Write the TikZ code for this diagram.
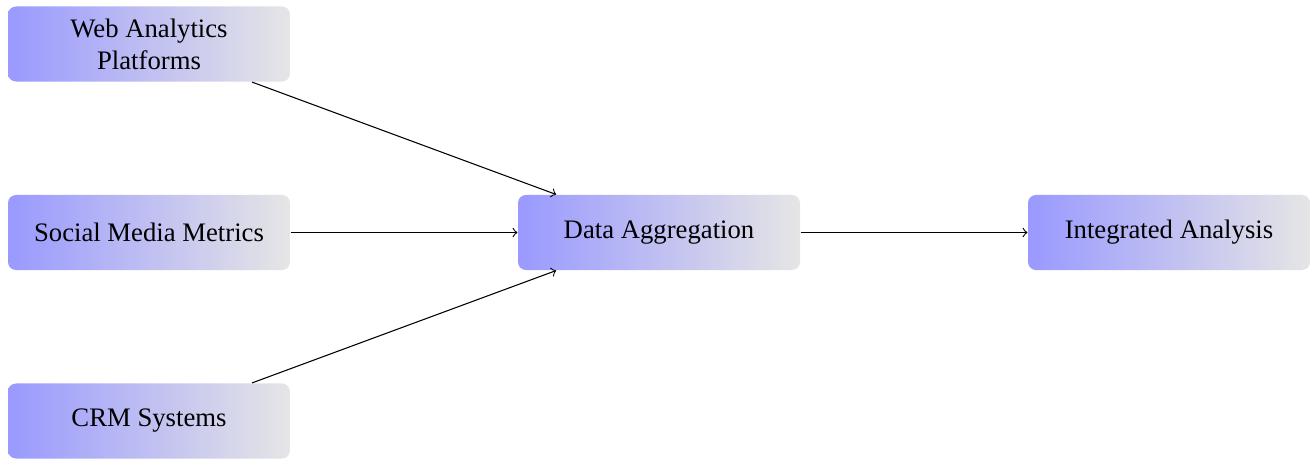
\documentclass[tikz,border=0pt]{standalone}
\usepackage{fontspec}
\setmainfont{Liberation Serif}
\begin{document}
\begin{tikzpicture}[x=0.3745pt,y=-0.3745pt,
  box/.style={rectangle, rounded corners=3pt, left color=blue!40, right color=gray!20,
    draw=none, minimum width=105.6pt, minimum height=28.1pt, align=center,
    font=\fontsize{10pt}{12pt}\selectfont, inner sep=2pt},
  conn/.style={->, line width=0.4pt}]
\useasboundingbox (0,0) rectangle (1311,458);
\node[box] (web) at (149,44) {Web Analytics\\Platforms};
\node[box] (social) at (149,232.5) {Social Media Metrics};
\node[box] (crm) at (149,421) {CRM Systems};
\node[box] (agg) at (659,232.5) {Data Aggregation};
\node[box] (int) at (1169,232.5) {Integrated Analysis};
\draw[conn] (web) -- (agg);
\draw[conn] (social) -- (agg);
\draw[conn] (crm) -- (agg);
\draw[conn] (agg) -- (int);
\end{tikzpicture}
\end{document}
